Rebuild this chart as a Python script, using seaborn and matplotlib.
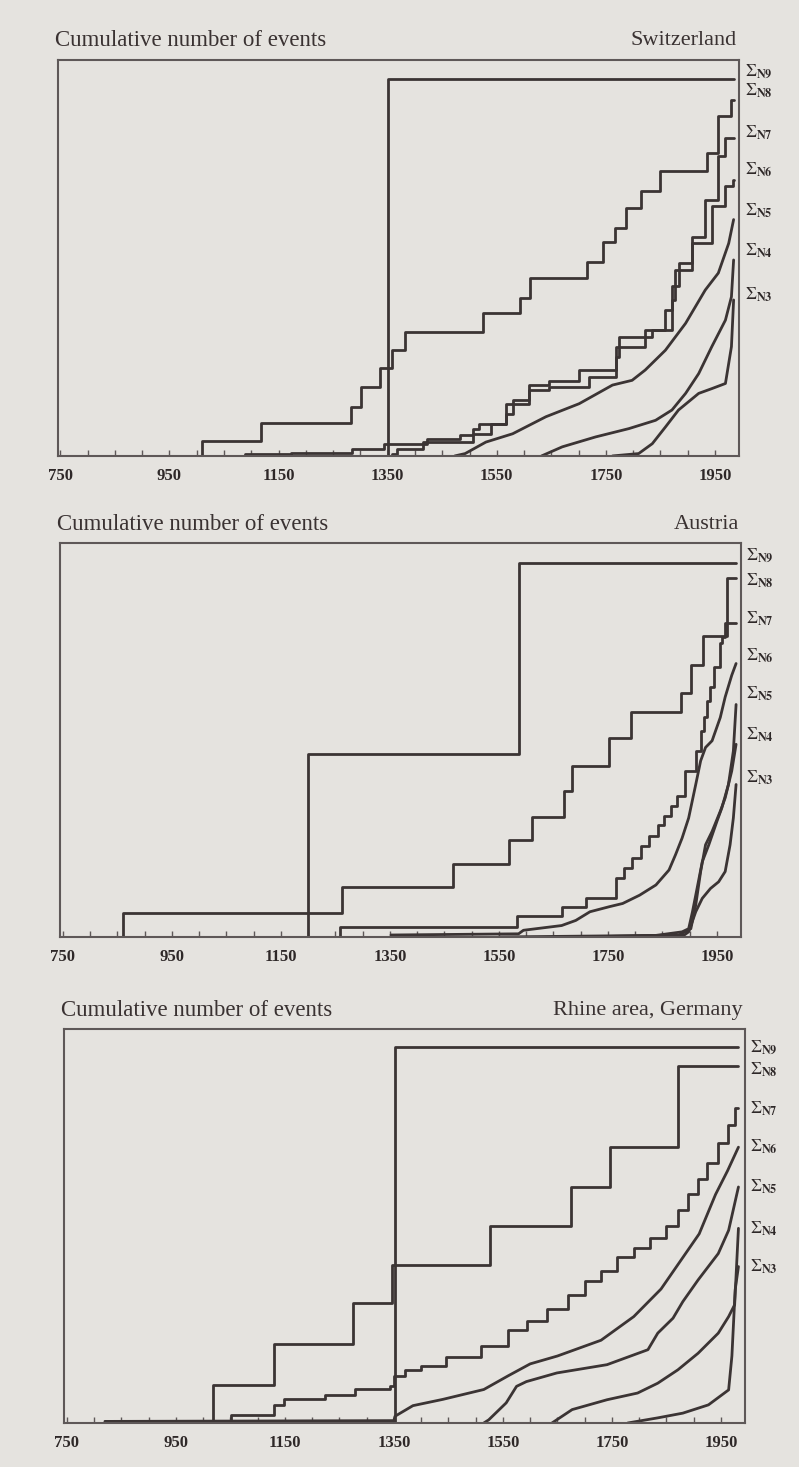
import matplotlib
matplotlib.use("Agg")
import matplotlib.pyplot as plt
import seaborn as sns
import pandas as pd

# ---------------- data (years, normalised cumulative height) ----------------
# Switzerland
ch_n9_years = [1350]
ch_n9_vals = [0.951]
ch_n8_years = [1010, 1117, 1282, 1301, 1336, 1358, 1381, 1524, 1593, 1610, 1715, 1745,
               1766, 1786, 1814, 1849, 1935, 1956, 1980]
ch_n8_vals = [0.038, 0.082, 0.124, 0.175, 0.221, 0.268, 0.314, 0.36, 0.40, 0.45, 0.49, 0.54,
              0.575, 0.625, 0.67, 0.72, 0.765, 0.858, 0.90]
ch_n7_years = [1089, 1172, 1284, 1344, 1423, 1483, 1506, 1518, 1567, 1609, 1646, 1701, 1768,
               1822, 1859, 1871, 1883, 1908, 1932, 1956, 1969]
ch_n7_vals = [0.004, 0.008, 0.018, 0.031, 0.044, 0.054, 0.069, 0.08, 0.132, 0.179, 0.19, 0.217,
              0.276, 0.318, 0.369, 0.428, 0.487, 0.554, 0.647, 0.757, 0.803]
ch_n6_years = [1358, 1367, 1414, 1506, 1540, 1567, 1579, 1609, 1646, 1719, 1768, 1774, 1835,
               1871, 1877, 1908, 1944, 1969, 1982]
ch_n6_vals = [0.005, 0.018, 0.035, 0.056, 0.08, 0.105, 0.141, 0.166, 0.175, 0.200, 0.250, 0.301,
              0.318, 0.394, 0.470, 0.537, 0.630, 0.681, 0.698]
ch_n5_years = [1473, 1492, 1530, 1579, 1640, 1701, 1762, 1798, 1822, 1859, 1896, 1932, 1956,
               1975, 1984]
ch_n5_vals = [0.0, 0.006, 0.035, 0.056, 0.099, 0.132, 0.179, 0.191, 0.217, 0.267, 0.335, 0.419,
              0.462, 0.537, 0.597]
ch_n4_years = [1632, 1670, 1731, 1792, 1841, 1871, 1896, 1920, 1944, 1969, 1980, 1984]
ch_n4_vals = [0.0, 0.023, 0.048, 0.069, 0.090, 0.116, 0.158, 0.208, 0.276, 0.343, 0.402, 0.495]
ch_n3_years = [1762, 1810, 1835, 1859, 1883, 1920, 1944, 1969, 1980, 1984]
ch_n3_vals = [0.0, 0.006, 0.031, 0.073, 0.116, 0.158, 0.170, 0.183, 0.276, 0.394]

# Austria
at_n9_years = [1199, 1587]
at_n9_vals = [0.465, 0.948]
at_n8_years = [860, 1262, 1465, 1568, 1610, 1669, 1684, 1752, 1792, 1884, 1903, 1925, 1968]
at_n8_vals = [0.06, 0.126, 0.185, 0.245, 0.305, 0.37, 0.435, 0.505, 0.57, 0.62, 0.69, 0.765, 0.91]
at_n7_years = [1258, 1583, 1665, 1710, 1765, 1780, 1795, 1811, 1826, 1841, 1853, 1865, 1877,
               1892, 1911, 1920, 1926, 1932, 1938, 1945, 1956, 1960, 1965]
at_n7_vals = [0.025, 0.052, 0.077, 0.10, 0.149, 0.174, 0.20, 0.23, 0.255, 0.285, 0.306, 0.332,
              0.357, 0.421, 0.472, 0.523, 0.557, 0.60, 0.634, 0.685, 0.745, 0.762, 0.796]
at_n6_years = [1352, 1586, 1595, 1665, 1691, 1717, 1753, 1777, 1808, 1838, 1862, 1874, 1886,
               1898, 1911, 1920, 1929, 1941, 1956, 1965, 1977, 1985]
at_n6_vals = [0.005, 0.008, 0.017, 0.029, 0.042, 0.064, 0.077, 0.085, 0.106, 0.132, 0.17, 0.209,
              0.251, 0.302, 0.387, 0.447, 0.481, 0.498, 0.557, 0.609, 0.664, 0.694]
at_n5_years = [1550, 1838, 1886, 1898, 1905, 1911, 1923, 1935, 1950, 1959, 1971, 1980, 1985]
at_n5_vals = [0.0, 0.004, 0.013, 0.021, 0.064, 0.106, 0.191, 0.234, 0.294, 0.328, 0.387, 0.472, 0.59]
at_n4_years = [1700, 1880, 1902, 1911, 1920, 1929, 1941, 1956, 1965, 1977, 1985]
at_n4_vals = [0.0, 0.005, 0.021, 0.081, 0.166, 0.234, 0.268, 0.319, 0.353, 0.421, 0.489]
at_n3_years = [1750, 1890, 1898, 1911, 1923, 1938, 1953, 1965, 1974, 1980, 1985]
at_n3_vals = [0.0, 0.005, 0.013, 0.064, 0.098, 0.123, 0.14, 0.166, 0.234, 0.302, 0.387]

# Rhine area, Germany
de_n9_years = [1352]
de_n9_vals = [0.953]
de_n8_years = [1019, 1130, 1275, 1346, 1526, 1675, 1746, 1872]
de_n8_vals = [0.097, 0.20, 0.305, 0.40, 0.50, 0.598, 0.70, 0.905]
de_n7_years = [820, 1051, 1130, 1148, 1223, 1278, 1343, 1350, 1371, 1399, 1445, 1510, 1560, 1594,
               1630, 1670, 1700, 1730, 1760, 1790, 1820, 1850, 1871, 1890, 1908, 1925, 1945,
               1962, 1976]
de_n7_vals = [0.005, 0.021, 0.046, 0.061, 0.072, 0.086, 0.093, 0.118, 0.135, 0.145, 0.167, 0.195,
              0.235, 0.26, 0.29, 0.325, 0.36, 0.385, 0.42, 0.445, 0.47, 0.50, 0.54, 0.58, 0.62,
              0.66, 0.71, 0.755, 0.80]
de_n6_years = [820, 1350, 1352, 1385, 1440, 1515, 1560, 1600, 1650, 1730, 1790, 1840, 1880, 1910,
               1940, 1962, 1982]
de_n6_vals = [0.004, 0.006, 0.017, 0.044, 0.06, 0.085, 0.12, 0.15, 0.17, 0.21, 0.27, 0.34, 0.42,
              0.48, 0.58, 0.64, 0.70]
de_n5_years = [1515, 1524, 1556, 1575, 1593, 1649, 1741, 1816, 1834, 1862, 1880, 1908, 1945, 1964,
               1982]
de_n5_vals = [0.0, 0.008, 0.051, 0.093, 0.105, 0.127, 0.148, 0.186, 0.228, 0.266, 0.308, 0.363,
              0.43, 0.489, 0.599]
de_n4_years = [1640, 1677, 1741, 1797, 1834, 1871, 1908, 1945, 1964, 1975, 1982]
de_n4_vals = [0.0, 0.034, 0.059, 0.076, 0.101, 0.135, 0.177, 0.228, 0.27, 0.30, 0.494]
de_n3_years = [1779, 1834, 1880, 1927, 1964, 1970, 1976, 1982]
de_n3_vals = [0.0, 0.013, 0.025, 0.046, 0.084, 0.17, 0.338, 0.397]

series_names = ["N9", "N8", "N7", "N6", "N5", "N4", "N3"]
panel_titles = ["Switzerland", "Austria", "Rhine area, Germany"]
end_years = [1984, 1985, 1982]
tick_years = [750, 950, 1150, 1350, 1550, 1750, 1950]

# ---------------- style ----------------
sns.set_style("ticks")
plt.rcParams["font.family"] = ["Liberation Serif", "DejaVu Serif"]
plt.rcParams["mathtext.fontset"] = "stix"

BG = "#e5e3df"
INK = "#3b3434"
FRAME = "#5e5858"

fig = plt.figure(figsize=(7.99, 14.67), dpi=100, facecolor=BG)

axes_rects = [
    [0.072, 0.6892, 0.853, 0.2699],
    [0.0751, 0.3613, 0.8523, 0.2686],
    [0.0801, 0.0300, 0.8523, 0.2686],
]
label_y = [
    [0.970, 0.922, 0.816, 0.723, 0.618, 0.517, 0.407],
    [0.966, 0.903, 0.807, 0.714, 0.618, 0.513, 0.403],
    [0.952, 0.896, 0.797, 0.700, 0.599, 0.494, 0.397],
]
step_sets = [
    {"N9", "N8", "N7", "N6"},
    {"N9", "N8", "N7"},
    {"N9", "N8", "N7"},
]

panels = [
    [(ch_n9_years, ch_n9_vals), (ch_n8_years, ch_n8_vals), (ch_n7_years, ch_n7_vals),
     (ch_n6_years, ch_n6_vals), (ch_n5_years, ch_n5_vals), (ch_n4_years, ch_n4_vals),
     (ch_n3_years, ch_n3_vals)],
    [(at_n9_years, at_n9_vals), (at_n8_years, at_n8_vals), (at_n7_years, at_n7_vals),
     (at_n6_years, at_n6_vals), (at_n5_years, at_n5_vals), (at_n4_years, at_n4_vals),
     (at_n3_years, at_n3_vals)],
    [(de_n9_years, de_n9_vals), (de_n8_years, de_n8_vals), (de_n7_years, de_n7_vals),
     (de_n6_years, de_n6_vals), (de_n5_years, de_n5_vals), (de_n4_years, de_n4_vals),
     (de_n3_years, de_n3_vals)],
]

for p, rect in enumerate(axes_rects):
    ax = fig.add_axes(rect)
    ax.set_facecolor(BG)
    end = end_years[p]
    for name, (yrs, vals) in zip(series_names, panels[p]):
        if name in step_sets[p]:
            x = [yrs[0]] + list(yrs) + [end]
            y = [0.0] + list(vals) + [vals[-1]]
            df = pd.DataFrame({"year": x, "value": y})
            sns.lineplot(data=df, x="year", y="value", ax=ax, color=INK, lw=2.0,
                         drawstyle="steps-post", estimator=None, sort=False, legend=False)
        else:
            df = pd.DataFrame({"year": list(yrs), "value": list(vals)})
            sns.lineplot(data=df, x="year", y="value", ax=ax, color=INK, lw=2.0,
                         estimator=None, sort=False, legend=False)

    ax.set_xlim(745, 1994)
    ax.set_ylim(0, 1)
    ax.set_xlabel("")
    ax.set_ylabel("")
    ax.set_yticks([])
    ax.set_xticks(tick_years)
    ax.set_xticklabels([str(t) for t in tick_years], fontweight="bold", fontsize=12,
                       color="#2e2828")
    ax.set_xticks(list(range(800, 1951, 50)), minor=True)
    ax.tick_params(axis="x", which="both", direction="in", length=4, width=1.0,
                   color=FRAME, pad=9)
    for s in ax.spines.values():
        s.set_visible(True)
        s.set_color(FRAME)
        s.set_linewidth(1.5)

    ax.text(-0.004, 1.048, "Cumulative number of events", transform=ax.transAxes,
            ha="left", va="center", fontsize=16.5, color="#3a3232")
    ax.text(0.997, 1.048, panel_titles[p], transform=ax.transAxes,
            ha="right", va="center", fontsize=16, color="#3a3232")

    for name, ly in zip(series_names, label_y[p]):
        ax.text(1.008, ly, r"$\Sigma_{\mathbf{%s}}$" % name, transform=ax.transAxes,
                ha="left", va="center", fontsize=12.5, color="#2e2828")

fig.savefig("out.png", dpi=100, facecolor=BG)
